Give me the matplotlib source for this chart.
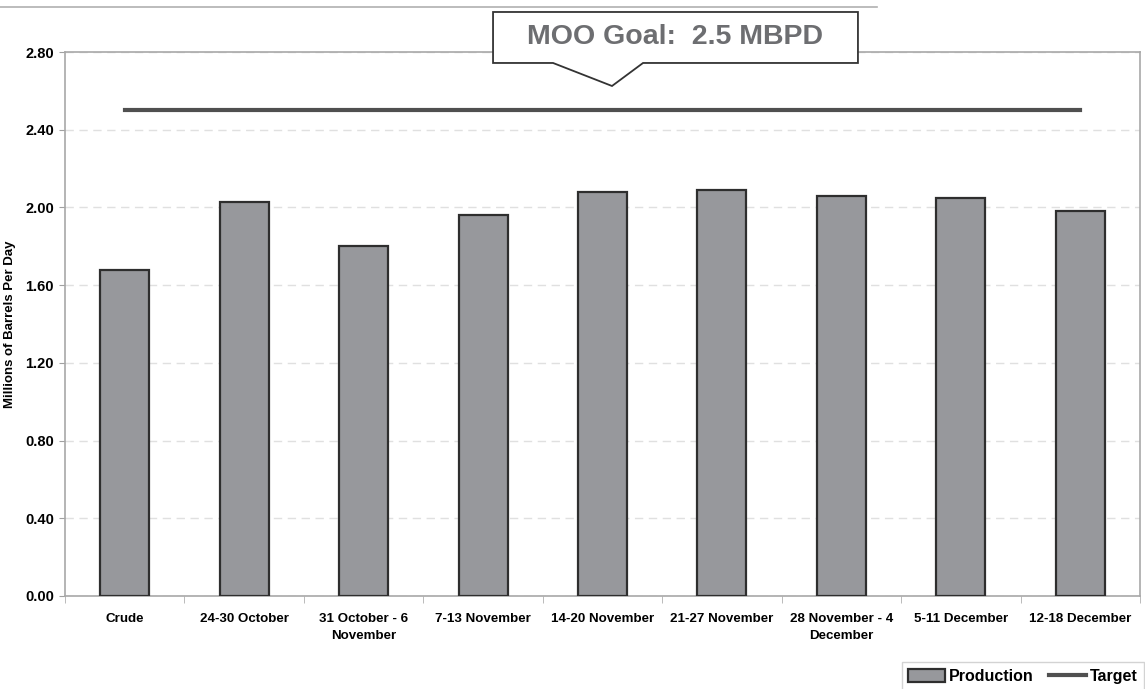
import matplotlib.pyplot as plt
from matplotlib.patches import Polygon
from matplotlib.lines import Line2D
import numpy as np

plt.rcParams["font.family"] = ["Liberation Sans", "DejaVu Sans"]
plt.rcParams["font.weight"] = "bold"

weeks = [
    "Crude",
    "24-30 October",
    "31 October - 6\nNovember",
    "7-13 November",
    "14-20 November",
    "21-27 November",
    "28 November - 4\nDecember",
    "5-11 December",
    "12-18 December",
]
production = [1.68, 2.03, 1.80, 1.96, 2.08, 2.09, 2.06, 2.05, 1.98]
target = [2.5] * len(weeks)
y_ticks = [0.0, 0.4, 0.8, 1.2, 1.6, 2.0, 2.4, 2.8]

fig = plt.figure(figsize=(11.45, 6.89), dpi=100)
ax = fig.add_axes([0.0568, 0.135, 0.9388, 0.7895])

x = np.arange(len(weeks))
bars = ax.bar(x, production, width=0.41, color="#97989c", edgecolor="#2e2e2e",
              linewidth=1.6, zorder=3, label="Production")
line, = ax.plot(x, target, color="#505050", linewidth=3, zorder=4, label="Target")

ax.set_xlim(-0.5, len(weeks) - 0.5)
ax.set_ylim(0, 2.8)
ax.set_yticks(y_ticks)
ax.set_yticklabels([f"{v:.2f}" for v in y_ticks], fontsize=10.5, fontweight="bold")
ax.set_ylabel("Millions of Barrels Per Day", fontsize=9.5, fontweight="bold")
ax.yaxis.set_label_coords(-0.046, 0.5)

# category labels centred on bars, tick marks at the boundaries
ax.set_xticks(x)
ax.set_xticklabels(weeks, fontsize=9.6, fontweight="bold", linespacing=1.55)
ax.tick_params(axis="x", length=0, pad=12)
ax.set_xticks(np.arange(len(weeks) + 1) - 0.5, minor=True)
ax.tick_params(axis="x", which="minor", length=5, color="#b0b0b0")
ax.tick_params(axis="y", length=4, color="#a0a0a0", pad=4)

ax.grid(axis="y", linestyle=(0, (6, 4)), color="#e0e0e0", linewidth=1, zorder=0)
for side in ["left", "right", "top", "bottom"]:
    ax.spines[side].set_color("#a8a8a8")
    ax.spines[side].set_linewidth(1.2)

leg = ax.legend([bars, line], ["Production", "Target"], loc="upper right",
                bbox_to_anchor=(1.004, -0.122), borderaxespad=0, ncol=2,
                fontsize=11.5, frameon=True, fancybox=False, edgecolor="#c8c8c8",
                handlelength=2.3, handleheight=0.9, columnspacing=1.0,
                borderpad=0.4, handletextpad=0.25)
leg.get_frame().set_linewidth(1.0)

# thin rule along the top of the page
fig.add_artist(Line2D([0, 0.766], [0.9898, 0.9898], color="#b0b0b0",
                      linewidth=1.2, transform=fig.transFigure))

# callout box for the goal
callout = Polygon(
    [(0.4306, 0.9826), (0.7493, 0.9826), (0.7493, 0.9086), (0.5616, 0.9086),
     (0.5345, 0.8752), (0.4830, 0.9086), (0.4306, 0.9086)],
    closed=True, facecolor="white", edgecolor="#333333", linewidth=1.3,
    transform=fig.transFigure, zorder=10)
fig.add_artist(callout)
fig.text(0.5895, 0.9463, "MOO Goal:  2.5 MBPD", ha="center", va="center",
         fontsize=20.5, fontweight="bold", color="#6d6e71", zorder=11)

plt.savefig("out.png", dpi=100)
